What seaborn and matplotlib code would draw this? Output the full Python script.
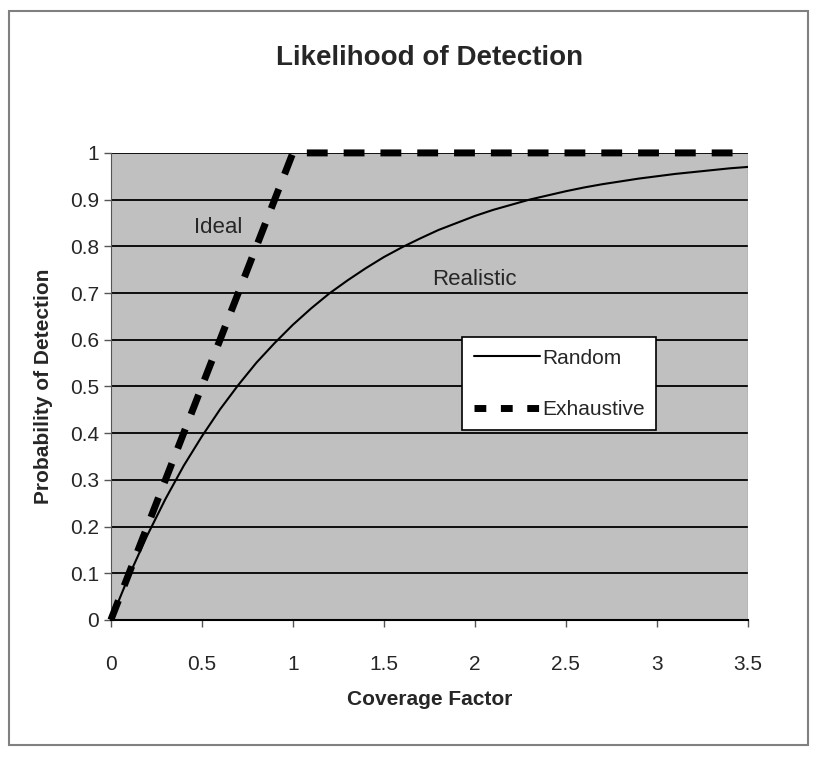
import numpy as np
import pandas as pd
import matplotlib.pyplot as plt
import seaborn as sns
from matplotlib.patches import Rectangle

# coverage factor samples and read-off detection probabilities
coverage = [0.0, 0.1, 0.2, 0.3, 0.4, 0.5, 0.6, 0.7, 0.8, 0.9, 1.0, 1.1,
            1.2, 1.3, 1.4, 1.5, 1.6, 1.7, 1.8, 1.9, 2.0, 2.1, 2.2, 2.3,
            2.4, 2.5, 2.6, 2.7, 2.8, 2.9, 3.0, 3.1, 3.2, 3.3, 3.4, 3.5]
random_prob = [0.000, 0.095, 0.181, 0.259, 0.330, 0.393, 0.451, 0.503,
               0.551, 0.593, 0.632, 0.667, 0.699, 0.727, 0.753, 0.777,
               0.798, 0.817, 0.835, 0.850, 0.865, 0.878, 0.889, 0.900,
               0.909, 0.918, 0.926, 0.933, 0.939, 0.945, 0.950, 0.955,
               0.959, 0.963, 0.967, 0.970]

exh_coverage = [0.0, 1.0, 3.5]
exh_prob = [0.0, 1.0, 1.0]

y_ticks = [0, 0.1, 0.2, 0.3, 0.4, 0.5, 0.6, 0.7, 0.8, 0.9, 1]
x_ticks = [0, 0.5, 1, 1.5, 2, 2.5, 3, 3.5]

sns.set_style("white")
plt.rcParams['font.family'] = ['Liberation Sans Narrow', 'Liberation Sans', 'DejaVu Sans']

fig = plt.figure(figsize=(8.21, 7.57), dpi=100)
ax = fig.add_axes([0.135, 0.181, 0.776, 0.617])
ax.set_facecolor("#c0c0c0")

# outer chart frame
fig.patches.append(Rectangle((0.011, 0.016), 0.973, 0.970, transform=fig.transFigure,
                             fill=False, edgecolor="#808080", linewidth=1.5))

for yv in y_ticks:
    ax.axhline(yv, color="black", linewidth=1.3, zorder=1)

df_r = pd.DataFrame({"x": coverage, "y": random_prob})
df_e = pd.DataFrame({"x": exh_coverage, "y": exh_prob})
sns.lineplot(data=df_e, x="x", y="y", ax=ax, color="black", linewidth=5,
             label="Exhaustive", zorder=3)
exh_line = ax.lines[-1]
exh_line.set_dashes([3.0, 2.3])
exh_line.set_clip_on(False)
sns.lineplot(data=df_r, x="x", y="y", ax=ax, color="black", linewidth=1.5,
             label="Random", zorder=4)

ax.set_xlim(0, 3.5)
ax.set_ylim(0, 1)
ax.set_xticks(x_ticks)
ax.set_xticklabels([f"{v:g}" for v in x_ticks])
ax.set_yticks(y_ticks)
ax.set_yticklabels([f"{v:g}" for v in y_ticks])
ax.tick_params(axis="both", labelsize=15, length=5, width=1, color="#555555",
               direction="out", bottom=True, left=True)
ax.tick_params(axis="x", pad=20)

for s in ["top", "right"]:
    ax.spines[s].set_visible(False)
ax.spines["left"].set_color("#555555")
ax.spines["bottom"].set_color("black")
ax.spines["bottom"].set_linewidth(1.5)
ax.axvline(3.5, color="#909090", linewidth=1, zorder=1)

ax.set_title("Likelihood of Detection", fontsize=20, fontweight="bold", pad=63)
ax.set_xlabel("Coverage Factor", fontsize=15, fontweight="bold", labelpad=12)
ax.set_ylabel("Probability of Detection", fontsize=15, fontweight="bold", labelpad=12)

ax.text(0.59, 0.84, "Ideal", fontsize=16, ha="center", va="center")
ax.text(2.0, 0.73, "Realistic", fontsize=16, ha="center", va="center")

handles, labels = ax.get_legend_handles_labels()
order = [labels.index("Random"), labels.index("Exhaustive")]
leg = ax.legend([handles[i] for i in order], [labels[i] for i in order],
                loc="upper left", bbox_to_anchor=(0.535, 0.628), fontsize=15,
                frameon=True, fancybox=False, edgecolor="black", framealpha=1,
                handlelength=3.2, handletextpad=0.1, borderpad=0.55,
                labelspacing=1.55)
leg.get_frame().set_linewidth(1.2)
leg.get_lines()[1].set_dashes([1.7, 2.1])

fig.savefig("out.png", dpi=100)
